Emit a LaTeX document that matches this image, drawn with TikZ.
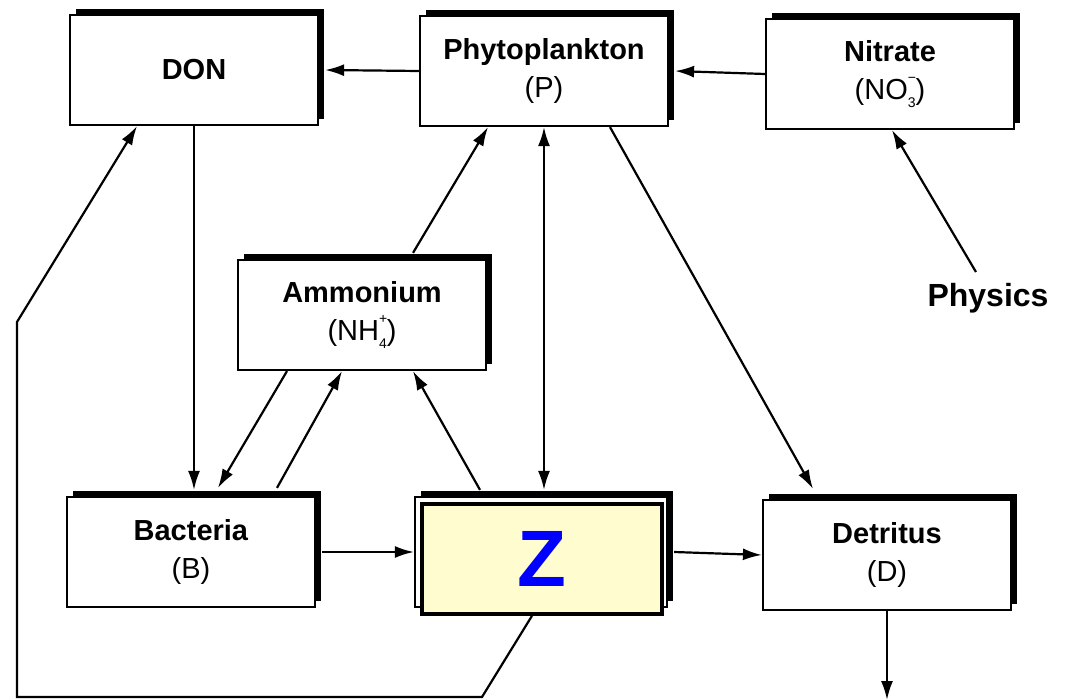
\documentclass[tikz,border=0pt]{standalone}
\usepackage{fontspec}
\setmainfont{Liberation Sans}
\usepackage{tikz}
\usepackage{xcolor}
\usetikzlibrary{arrows.meta,shadows}
\definecolor{zfill}{RGB}{255,253,208}
\newcommand{\ionsub}[2]{\rlap{\raisebox{1.1ex}{\scriptsize #1}}\raisebox{-0.55ex}{\scriptsize #2}}
\tikzset{
    pool-box/.style = {draw=black, fill=white, line width=1.1pt, rectangle, minimum width=124pt, minimum height=55pt, align=center, font=\fontsize{14.5}{19}\selectfont, drop shadow={shadow xshift=3pt, shadow yshift=3pt, fill=black, opacity=1}},
    z-box/.style = {draw=black, fill=zfill, line width=1.8pt, rectangle, minimum width=120pt, minimum height=55pt, text=blue, font=\fontsize{40}{42}\selectfont\bfseries},
    flow/.style = {-{Latex[length=9.5pt,width=6pt]}, line width=1.1pt},
}

\begin{document}
\begin{tikzpicture}[x=0.5pt,y=-0.5pt]
\useasboundingbox (0,0) rectangle (1067,700);
\node[pool-box] (don) at (194,70) {\textbf{DON}};
\node[pool-box] (phyto) at (544,71) {\textbf{Phytoplankton}\\(P)};
\node[pool-box] (nitrate) at (890,74) {\textbf{Nitrate}\\(NO\ionsub{−}{3})};
\node[pool-box] (ammon) at (362,315) {\textbf{Ammonium}\\(NH\ionsub{+}{4})};
\node[pool-box] (bact) at (191,552) {\textbf{Bacteria}\\(B)};
\node[pool-box, minimum width=126pt] (zorig) at (541,552) {};
\node[z-box] (z) at (542,559) {Z};
\node[pool-box] (detritus) at (887,555) {\textbf{Detritus}\\(D)};
\node[font=\fontsize{16}{18}\selectfont\bfseries] (physics) at (988,298) {Physics};
\coordinate (sink) at (885,700);
\coordinate (loop-a) at (482,697);
\coordinate (loop-b) at (17,697);
\coordinate (loop-c) at (17,322);
% top row
\draw[flow] (phyto.west) -- ([xshift=3pt]don.east);
\draw[flow] (nitrate.west) -- ([xshift=3pt]phyto.east);
\draw[flow] ([xshift=-6pt,yshift=2pt]physics.north) -- ([xshift=1pt]nitrate.south);
% down to bacteria and detritus
\draw[flow] (don.south) -- ([yshift=3pt]don.south |- bact.north);
\draw[flow] ([xshift=33pt]phyto.south) -- ([xshift=-37pt,yshift=5pt]detritus.north);
\draw[{Latex[length=9.5pt,width=6pt]}-{Latex[length=9.5pt,width=6pt]}, line width=1.1pt] (phyto.south) -- ([yshift=3pt]phyto.south |- zorig.north);
% ammonium
\draw[flow] ([xshift=25.5pt,yshift=3pt]ammon.north) -- ([xshift=-28pt]phyto.south);
\draw[flow] ([xshift=-37.5pt]ammon.south) -- ([xshift=13.5pt,yshift=4pt]bact.north);
\draw[flow] ([xshift=43pt,yshift=4pt]bact.north) -- ([xshift=-10pt]ammon.south);
\draw[flow] ([xshift=-30.5pt,yshift=3pt]zorig.north) -- ([xshift=25.5pt]ammon.south);
% bottom row
\draw[flow] ([xshift=3pt]bact.east) -- (zorig.west);
\draw[flow] ([xshift=3pt]zorig.east) -- (detritus.west);
\draw[flow] (detritus.south) -- (detritus.south |- sink);
\draw[flow] ([xshift=-5pt]z.south) -- (loop-a) -- (loop-b) -- (loop-c) -- ([xshift=-28.5pt]don.south);
\end{tikzpicture}
\end{document}
